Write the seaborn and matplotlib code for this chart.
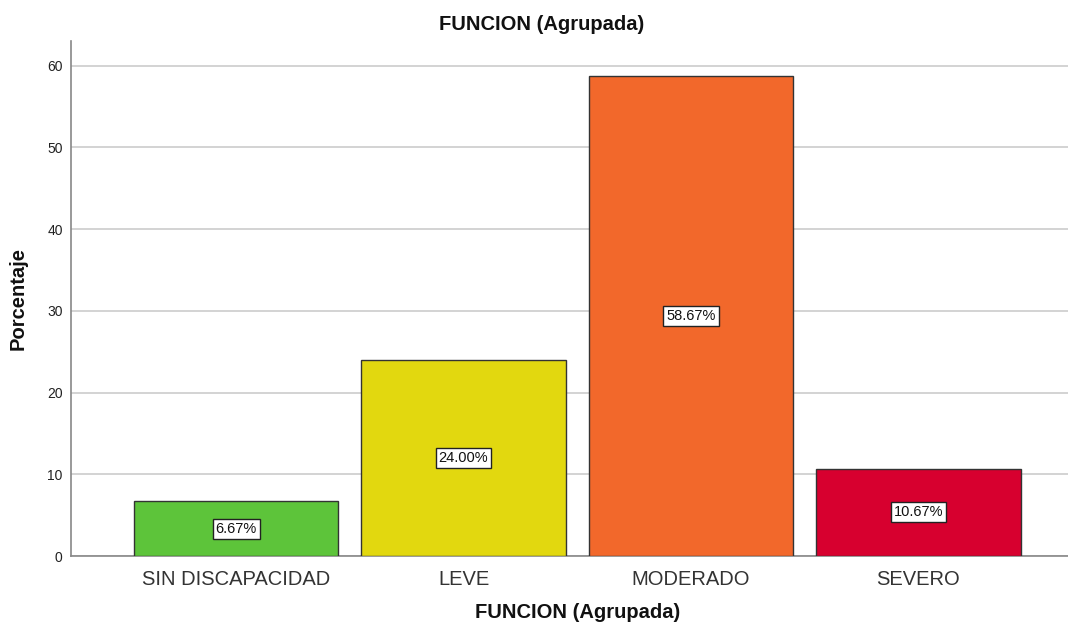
import matplotlib
matplotlib.use("Agg")
import matplotlib.pyplot as plt
import seaborn as sns
import pandas as pd

categories = ["SIN DISCAPACIDAD", "LEVE", "MODERADO", "SEVERO"]
percentages = [6.67, 24.00, 58.67, 10.67]
bar_colors = ["#5DC43A", "#E2D80F", "#F2682B", "#D7002F"]
y_ticks = [0, 10, 20, 30, 40, 50, 60]

sns.set_theme(style="white")
plt.rcParams["font.family"] = ["Liberation Sans", "DejaVu Sans"]

df = pd.DataFrame({"cat": categories, "pct": percentages})

fig = plt.figure(figsize=(10.68, 6.28), dpi=100)
ax = fig.add_axes([71 / 1068, 1 - 556 / 628, 1 - 71 / 1068, (556 - 41) / 628])

sns.barplot(data=df, x="cat", y="pct", hue="cat", palette=bar_colors,
            order=categories, hue_order=categories, legend=False,
            width=0.9, edgecolor="#333333", linewidth=1.0, saturation=1,
            ax=ax, zorder=3)

ax.set_ylim(0, 63)
ax.set_xlim(-0.726, 3.658)
ax.set_yticks(y_ticks)
ax.set_yticklabels([str(t) for t in y_ticks], fontsize=10, color="#222222")
ax.tick_params(axis="x", labelsize=14.5, labelcolor="#333333", length=0, pad=10)
ax.tick_params(axis="y", length=0, pad=6)
ax.yaxis.grid(True, color="#cccccc", linewidth=1.2, zorder=0)
ax.set_axisbelow(True)

for side in ["top", "right"]:
    ax.spines[side].set_visible(False)
for side in ["left", "bottom"]:
    ax.spines[side].set_color("#888888")
    ax.spines[side].set_linewidth(1.2)

for i, v in enumerate(percentages):
    ax.text(i, v / 2, f"{v:.2f}%", ha="center", va="center", fontsize=10.5,
            color="#111111", zorder=5,
            bbox=dict(boxstyle="square,pad=0.2", facecolor="white",
                      edgecolor="#222222", linewidth=1.0))

fig.suptitle("FUNCION (Agrupada)", x=0.507, y=1 - 25 / 628, va="center",
             fontsize=14.5, fontweight="bold", color="#111111")
ax.set_xlabel("FUNCION (Agrupada)", fontsize=14.5, fontweight="bold",
              color="#111111")
ax.xaxis.label.set_va("center")
ax.xaxis.set_label_coords((578 - 71) / 997, (556 - 613) / 515)
ax.set_ylabel("Porcentaje", fontsize=14.5, fontweight="bold",
              color="#111111", labelpad=14)

fig.savefig("out.png", dpi=100)
